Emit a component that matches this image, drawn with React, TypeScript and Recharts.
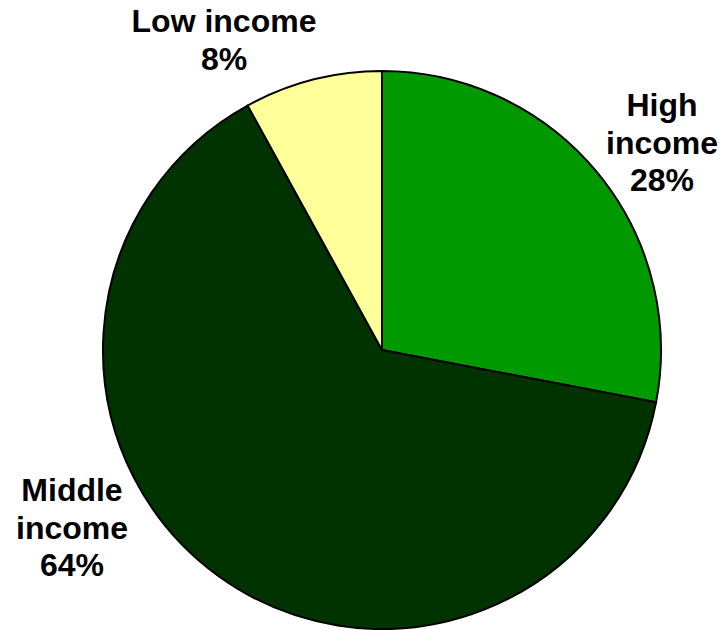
import { PieChart, Pie, Cell } from 'recharts';

const categories = ['High income', 'Middle income', 'Low income'];
const shares = [28, 64, 8];
const colors = ['#009900', '#003300', '#ffff99'];
const labelLines = [
  ['High', 'income', '28%'],
  ['Middle', 'income', '64%'],
  ['Low income', '8%'],
];

// label anchor offsets from the pie centre (first baseline)
const labelOffsets = [
  { dx: 280, dy: -234 },
  { dx: -310, dy: 151 },
  { dx: -158, dy: -318 },
];

const data = categories.map((name, i) => ({ name, value: shares[i] }));

function renderLabel(props: any) {
  const { cx, cy, index } = props;
  const off = labelOffsets[index];
  const x = cx + off.dx;
  return (
    <text
      x={x}
      y={cy + off.dy}
      textAnchor="middle"
      fill="#000"
      fontFamily="'Liberation Sans', Arial, sans-serif"
      fontWeight="bold"
      fontSize={32}
    >
      {labelLines[index].map((line, j) => (
        <tspan key={j} x={x} dy={j === 0 ? 0 : 37.5}>
          {line}
        </tspan>
      ))}
    </text>
  );
}

export default function App() {
  return (
    <div style={{ position: 'absolute', left: 0, top: 0, width: 720, height: 630, background: '#fff' }}>
      <PieChart width={720} height={630} margin={{ top: 0, right: 0, bottom: 0, left: 0 }}>
        <Pie
          data={data}
          dataKey="value"
          nameKey="name"
          cx={382}
          cy={350}
          outerRadius={279}
          startAngle={90}
          endAngle={-270}
          stroke="#000"
          strokeWidth={2}
          label={renderLabel}
          labelLine={false}
          isAnimationActive={false}
        >
          {data.map((entry, i) => (
            <Cell key={entry.name} fill={colors[i]} />
          ))}
        </Pie>
      </PieChart>
    </div>
  );
}
